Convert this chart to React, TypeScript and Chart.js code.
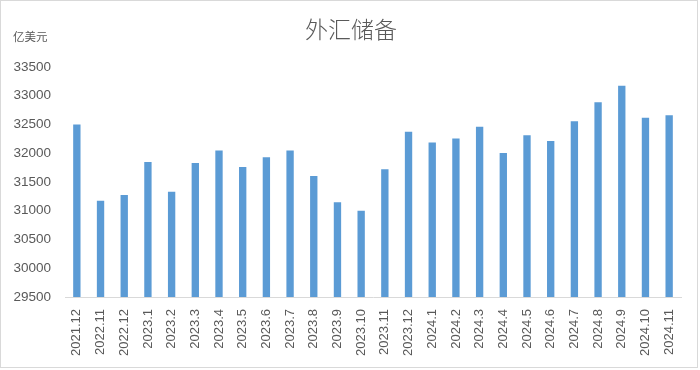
import React, { useEffect, useRef } from "react";
import { Chart, registerables } from "chart.js";

Chart.register(...registerables);

const categories = [
  "2021.12", "2022.11", "2022.12", "2023.1", "2023.2", "2023.3", "2023.4", "2023.5",
  "2023.6", "2023.7", "2023.8", "2023.9", "2023.10", "2023.11", "2023.12", "2024.1",
  "2024.2", "2024.3", "2024.4", "2024.5", "2024.6", "2024.7", "2024.8", "2024.9",
  "2024.10", "2024.11",
];
const reserves = [
  32502, 31174, 31273, 31849, 31331, 31831, 32046, 31761,
  31931, 32046, 31605, 31146, 31000, 31721, 32372, 32185,
  32255, 32459, 32006, 32314, 32215, 32558, 32889, 33174,
  32616, 32663,
];
const yMin = 29500;
const yMax = 33500;
const yStep = 500;
const titleText = "外汇储备";
const unitText = "亿美元";

const TEXT = "#595959";
const NUM_FONT = "'Liberation Sans', Arial, sans-serif";
const CJK_FONT = "'Noto Sans CJK SC', 'Noto Sans', sans-serif";

const decorPlugin = {
  id: "decor",
  afterDraw(chart: any) {
    const ctx = chart.ctx as CanvasRenderingContext2D;
    ctx.save();
    ctx.fillStyle = TEXT;
    ctx.textBaseline = "middle";
    ctx.textAlign = "center";
    ctx.font = `300 23px ${CJK_FONT}`;
    ctx.fillText(titleText, 351, 29);
    ctx.textAlign = "left";
    ctx.font = `11.5px ${CJK_FONT}`;
    ctx.fillText(unitText, 13, 36.5);
    ctx.strokeStyle = "#d9d9d9";
    ctx.lineWidth = 1;
    ctx.strokeRect(0.5, 0.5, 697, 367);
    ctx.restore();
  },
};

export default function App() {
  const ref = useRef<HTMLCanvasElement | null>(null);
  useEffect(() => {
    if (!ref.current) return;
    const chart = new Chart(ref.current, {
      type: "bar",
      data: {
        labels: categories,
        datasets: [
          {
            data: reserves,
            backgroundColor: "#5B9BD5",
            barPercentage: 0.31,
            categoryPercentage: 1,
          },
        ],
      },
      options: {
        animation: false,
        responsive: false,
        devicePixelRatio: 1,
        layout: { padding: { left: 0, right: 19, top: 67, bottom: 0 } },
        plugins: { legend: { display: false }, tooltip: { enabled: false }, title: { display: false } },
        scales: {
          x: {
            grid: { display: false },
            border: { display: true, color: "#d9d9d9", width: 1 },
            ticks: {
              color: TEXT,
              font: { family: NUM_FONT, size: 13 },
              minRotation: 90,
              maxRotation: 90,
              autoSkip: false,
              padding: 4,
            },
            afterFit(scale: any) {
              scale.height = 73;
              scale.paddingLeft = 0;
              scale.paddingRight = 0;
            },
          },
          y: {
            min: yMin,
            max: yMax,
            grid: { display: false },
            border: { display: false },
            ticks: {
              stepSize: yStep,
              color: TEXT,
              font: { family: NUM_FONT, size: 13.5 },
              padding: 6,
              callback: (v: any) => String(v),
            },
            afterFit(scale: any) {
              scale.width = 65;
              scale.paddingTop = 0;
              scale.paddingBottom = 0;
            },
          },
        },
      },
      plugins: [decorPlugin],
    });
    return () => chart.destroy();
  }, []);
  return (
    <div style={{ position: "fixed", left: 0, top: 0, width: 700, height: 370, background: "#fff" }}>
      <canvas ref={ref} width={700} height={370} />
    </div>
  );
}
